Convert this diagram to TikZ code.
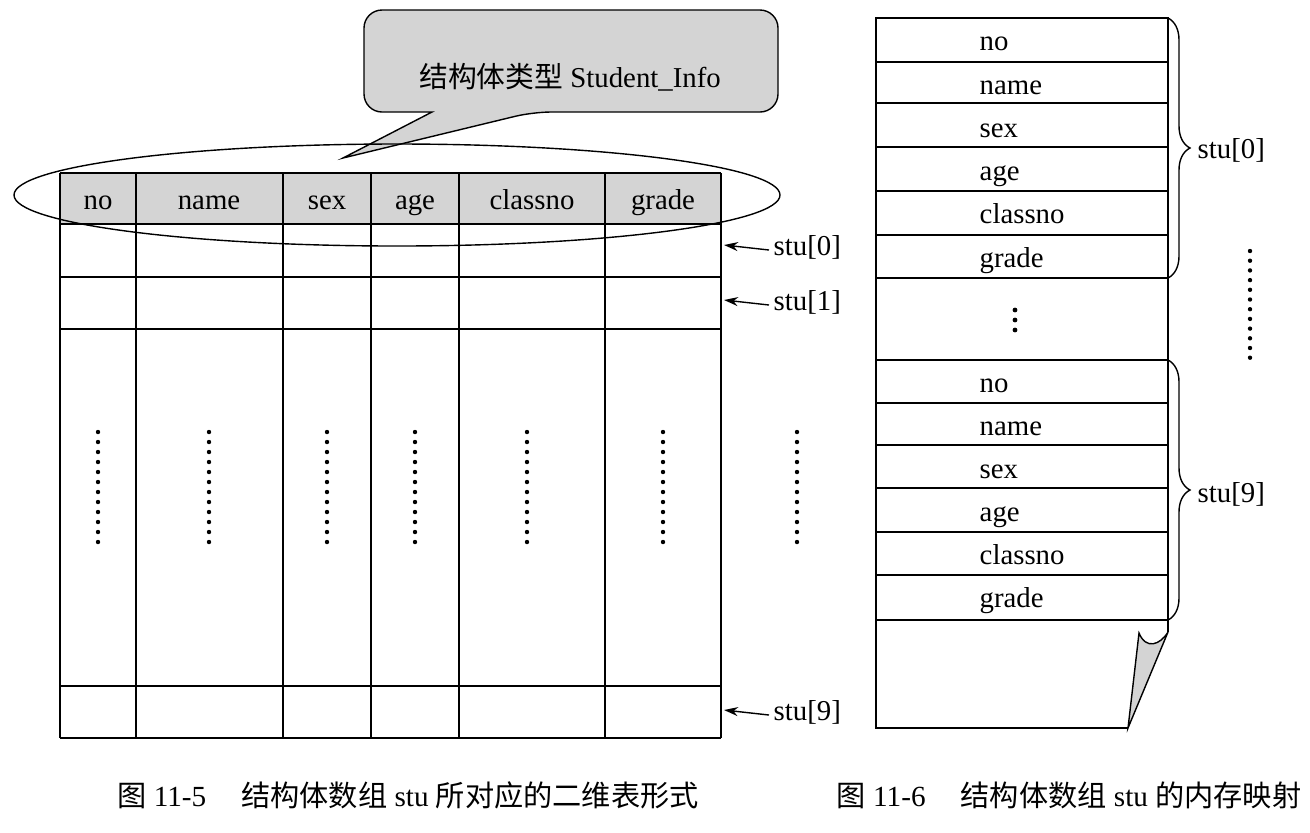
\documentclass[tikz,border=0pt]{standalone}
\usepackage{fontspec}
\setmainfont{Liberation Serif}
\newfontfamily\cjk{Noto Sans CJK SC}
\usetikzlibrary{arrows.meta, decorations.pathreplacing}
\colorlet{boxgray}{gray!34}
\tikzstyle{fld} = [font=\fontsize{14.4}{17}\selectfont, inner sep=2pt, text height=1.5ex, text depth=.25ex, yshift=-2.5pt]
\tikzstyle{figcap} = [font=\fontsize{14.6}{17}\selectfont]
\tikzstyle{arrow} = [-{Stealth[length=7pt,width=4.5pt]}]
\tikzstyle{brace} = [decorate, decoration={brace, amplitude=11pt}]

\begin{document}
\begin{tikzpicture}[x=0.5pt, y=-0.5pt, line width=0.7pt]
	\useasboundingbox (0,0) rectangle (1310,832);
	% callout
	\draw[fill=boxgray] (432,112) [rounded corners=9pt] -- (364,112) -- (364,10) -- (778,10) -- (778,112) -- (533,112) [sharp corners] -- (343,158) -- cycle;
	\node (callout) [fld] at (570,77) {{\cjk 结构体类型} Student\_Info};
	% table
	\fill[boxgray] (60,173) rectangle (721,224);
	\foreach \y in {173,224,277,329,686,738}
		\draw (60,\y) -- (721,\y);
	\foreach \x in {60,136,283,371,459,605,721}
		\draw (\x,173) -- (\x,738);
	\foreach \x/\t in {98/no, 209/name, 327/sex, 415/age, 532/classno, 663/grade}
		\node (h-\t) [fld] at (\x,199) {\t};
	\draw (397,195) ellipse [x radius=383, y radius=51];
	\foreach \x in {98,209,327,415,527,663,797}
		\foreach \i in {0,...,11}
			\fill (\x,432+10*\i) circle (1.1pt);
	\foreach \y/\n in {245/0, 300/1, 710/9} {
		\coordinate (t\n) at (724,\y);
		\node (s\n) [fld, anchor=west] at (769,\y) {stu[\n]};
		\draw [arrow] (s\n.west) -- (t\n);
	}
	% memory map
	\draw (1128,728) -- (876,728) -- (876,18) -- (1168,18) -- (1168,632);
	\foreach \y in {62,103,147,191,235,278,360,403,445,488,532,575,620}
		\draw (876,\y) -- (1168,\y);
	\foreach \f [count=\i from 0] in {no,name,sex,age,classno,grade} {
		\node (a-\f) [fld, anchor=west] at (975,40+43.3*\i) {\f};
		\node (b-\f) [fld, anchor=west] at (975,382+43*\i) {\f};
	}
	\foreach \y in {310,320,330}
		\fill (1015,\y) circle (1.2pt);
	\draw[fill=boxgray] (1139,633) .. controls (1146,650) and (1160,645) .. (1168,632) -- (1128,728) -- cycle;
	\draw [brace] (1168,18) -- (1168,278);
	\node (m0) [fld, anchor=west] at (1193,148) {stu[0]};
	\draw [brace] (1168,360) -- (1168,620);
	\node (m9) [fld, anchor=west] at (1193,492) {stu[9]};
	\foreach \i in {0,...,11}
		\fill (1250,251+9.7*\i) circle (1.1pt);
	% captions
	\node (cap5) [figcap] at (408,795) {{\cjk 图} 11-5\hspace{1.2em}{\cjk 结构体数组} stu {\cjk 所对应的二维表形式}};
	\node (cap6) [figcap] at (1069,795) {{\cjk 图} 11-6\hspace{1.2em}{\cjk 结构体数组} stu {\cjk 的内存映射}};
\end{tikzpicture}
\end{document}
